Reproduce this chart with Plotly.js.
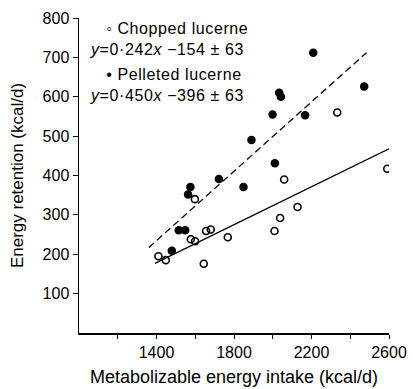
<!DOCTYPE html>
<html><head><meta charset="utf-8">
<script src="https://cdn.plot.ly/plotly-3.0.1.min.js"></script>
<style>html,body{margin:0;padding:0;background:#fff}
#chart .annotation-text{letter-spacing:0.6px}</style>
</head><body>
<div id="chart" style="width:413px;height:389px"></div>
<script>
const choppedX = [1410,1448,1577,1599,1598,1644,1656,1680,1768,2009,2038,2059,2128,2333,2591];
const choppedY = [195,185,238,233,340,176,259,263,243,259,292,390,320,560,417];
const pelletedX = [1479,1515,1548,1563,1575,1722,1849,1890,1999,2011,2033,2042,2167,2209,2472];
const pelletedY = [209,261,261,352,371,391,371,490,555,431,610,600,553,712,626];
const choppedLineX = [1392,2600];
const choppedLineY = [177,468];
const pelletedLineX = [1360,2484];
const pelletedLineY = [217,712];
const xTickVals = [1200,1400,1600,1800,2000,2200,2400,2600];
const xTickText = ["","1400","","1800","","2200","","2600"];
const yTickVals = [100,200,300,400,500,600,700,800];
const legendTexts = [
  "\u00a0\u00a0\u00a0\u25E6 Chopped lucerne<br><i>y</i>=0·242<i>x</i> −154 ± 63",
  "\u00a0\u00a0\u00a0\u2022 Pelleted lucerne<br><i>y</i>=0·450<i>x</i> −396 ± 63"
];

const F = "Liberation Sans, Arial, sans-serif";
const traces = [
  {x: choppedLineX, y: choppedLineY, mode:'lines', line:{color:'#000', width:1.3}, hoverinfo:'skip'},
  {x: pelletedLineX, y: pelletedLineY, mode:'lines', line:{color:'#000', width:1.3, dash:'7px,4px'}, hoverinfo:'skip'},
  {x: choppedX, y: choppedY, mode:'markers', name:'Chopped lucerne',
   marker:{symbol:'circle-open', size:7, color:'#000', line:{width:1.6, color:'#000'}}},
  {x: pelletedX, y: pelletedY, mode:'markers', name:'Pelleted lucerne',
   marker:{symbol:'circle', size:8.5, color:'#000'}}
];
const annPos = [[0.032,0.932],[0.032,0.787]];
const annotations = legendTexts.map((t,i)=>({
  text:t, xref:'paper', yref:'paper', x:annPos[i][0], y:annPos[i][1],
  xanchor:'left', yanchor:'middle', align:'left', showarrow:false, borderpad:0,
  font:{family:F, size:16, color:'#000'}
}));
const layout = {
  width:413, height:389,
  margin:{l:79, r:24, t:18, b:56},
  paper_bgcolor:'#fff', plot_bgcolor:'#fff',
  showlegend:false,
  font:{family:F, size:16, color:'#000'},
  xaxis:{range:[1000,2600], tickvals:xTickVals, ticktext:xTickText,
    ticks:'outside', ticklen:4, tickwidth:1, tickcolor:'#000',
    showline:true, linecolor:'#000', linewidth:1.5, showgrid:false, zeroline:false,
    tickfont:{family:F, size:16, color:'#000'},
    title:{text:'Metabolizable energy intake (kcal/d)', font:{family:F, size:18, color:'#000'}, standoff:10}},
  yaxis:{range:[0,800], tickvals:yTickVals,
    ticks:'outside', ticklen:5, tickwidth:1, tickcolor:'#000',
    showline:true, linecolor:'#000', linewidth:1.5, showgrid:false, zeroline:false,
    tickfont:{family:F, size:16, color:'#000'},
    title:{text:'Energy retention (kcal/d)', font:{family:F, size:17, color:'#000'}, standoff:14}},
  annotations: annotations
};
Plotly.newPlot('chart', traces, layout, {displayModeBar:false, staticPlot:true});
</script>
</body></html>
